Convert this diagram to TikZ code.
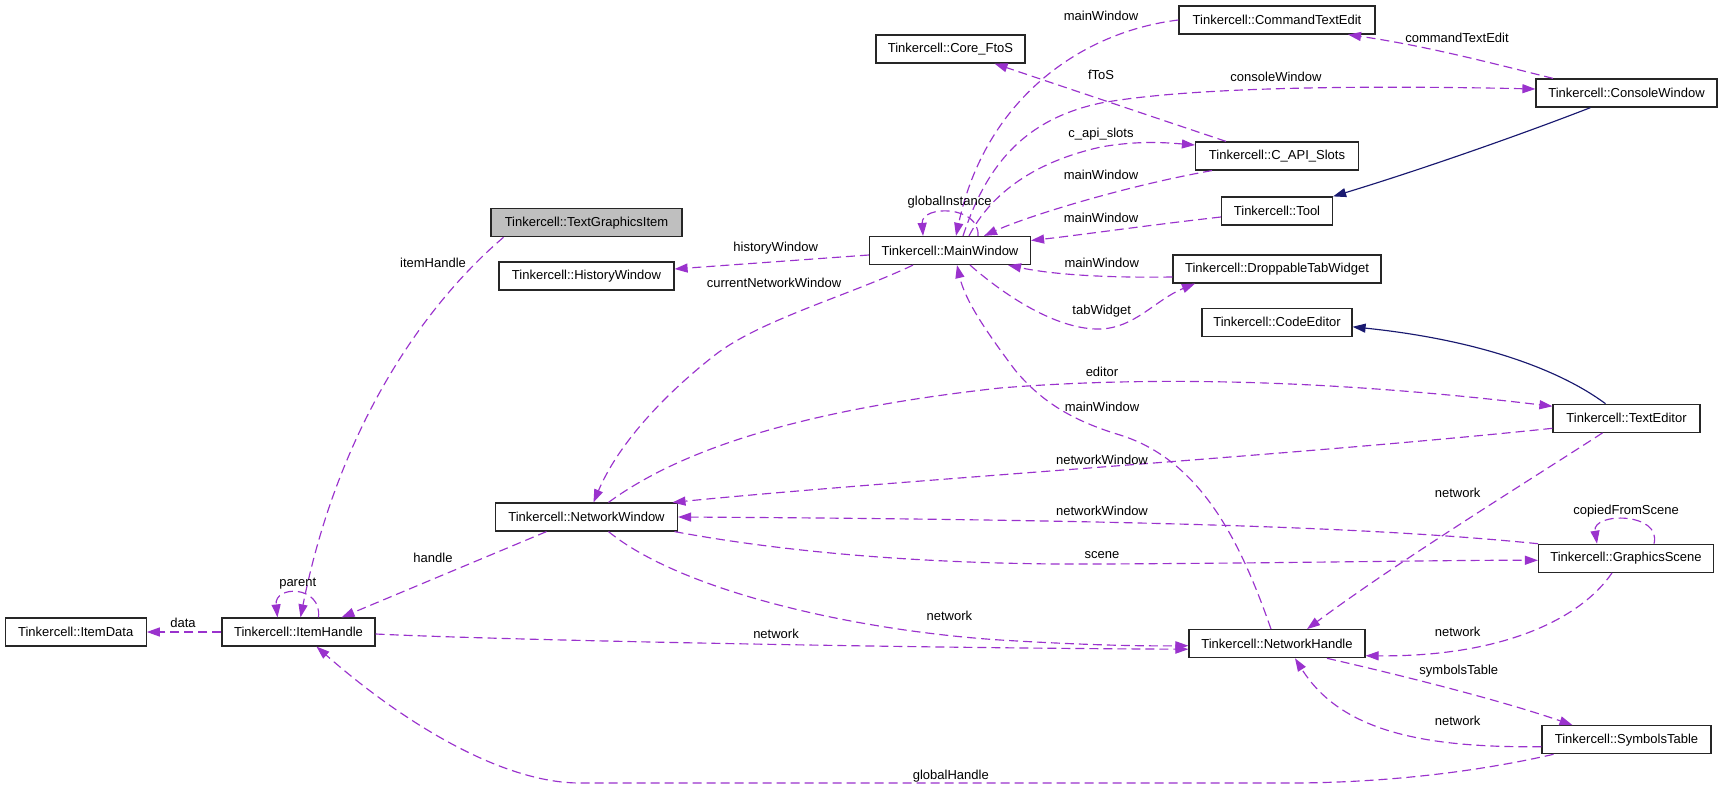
\documentclass[tikz,border=0pt]{standalone}
\usepackage{fontspec}
\setmainfont{Liberation Sans}
\usetikzlibrary{arrows.meta}
\definecolor{edgepurple}{RGB}{154,50,205}
\definecolor{inhblue}{RGB}{25,25,112}
\definecolor{boxgray}{RGB}{191,191,191}
\tikzset{
 cls/.style={draw=black!85, line width=1.2pt, fill=white, minimum height=28pt, inner sep=0pt, font=\fontsize{13}{15}\selectfont},
 lbl/.style={inner sep=0pt, font=\fontsize{13}{15}\selectfont},
 use/.style={draw=edgepurple, line width=1.15pt, dash pattern=on 9pt off 5pt, -{Triangle[length=13pt,width=9pt]}},
 inh/.style={draw=inhblue, line width=1.15pt, -{Triangle[length=13pt,width=9pt]}},
}
\begin{document}
\begin{tikzpicture}[x=1pt,y=-1pt]
\fill[white] (0,0) rectangle (1723,789);
\useasboundingbox (0,0) rectangle (1723,789);
% nodes
\node[cls, minimum width=191pt, fill=boxgray] (TGI) at (586.5,222.7) {Tinkercell::TextGraphicsItem};
\node[cls, minimum width=175pt] (HW) at (586.5,276) {Tinkercell::HistoryWindow};
\node[cls, minimum width=182pt] (NW) at (586.5,517) {Tinkercell::NetworkWindow};
\node[cls, minimum width=141pt] (ID) at (75.7,632) {Tinkercell::ItemData};
\node[cls, minimum width=153pt] (IH) at (298.5,632) {Tinkercell::ItemHandle};
\node[cls, minimum width=149pt] (FtoS) at (950.5,49) {Tinkercell::Core\_FtoS};
\node[cls, minimum width=161pt] (MW) at (950,250.5) {Tinkercell::MainWindow};
\node[cls, minimum width=196pt] (CTE) at (1277,20) {Tinkercell::CommandTextEdit};
\node[cls, minimum width=163pt] (CAS) at (1277,156) {Tinkercell::C\_API\_Slots};
\node[cls, minimum width=111pt] (Tool) at (1277,211) {Tinkercell::Tool};
\node[cls, minimum width=208pt] (DTW) at (1277,269) {Tinkercell::DroppableTabWidget};
\node[cls, minimum width=150pt] (CE) at (1277,322.3) {Tinkercell::CodeEditor};
\node[cls, minimum width=176pt] (NH) at (1277,643.7) {Tinkercell::NetworkHandle};
\node[cls, minimum width=181pt] (CW) at (1626.5,93) {Tinkercell::ConsoleWindow};
\node[cls, minimum width=147pt] (TE) at (1626.5,418.3) {Tinkercell::TextEditor};
\node[cls, minimum width=175pt] (GS) at (1626,558.3) {Tinkercell::GraphicsScene};
\node[cls, minimum width=169pt] (ST) at (1626.5,739.7) {Tinkercell::SymbolsTable};
% edges
\draw[use] (CTE.west) .. controls (1080,32) and (985,100) .. ([xshift=6pt]MW.north);
\draw[use] ([xshift=28pt]MW.north) .. controls (980,205) and (921,205) .. ([xshift=-27pt]MW.north);
\draw[use] ([xshift=13pt]MW.north) .. controls (985,170) and (1020,120) .. (1101,103) .. controls (1200,85) and (1400,86) .. ([yshift=4pt]CW.west);
\draw[use] ([xshift=19pt]MW.north) .. controls (985,205) and (1020,165) .. (1101,147) .. controls (1140,140) and (1170,143) .. ([yshift=11pt]CAS.west);
\draw[use] ([xshift=-65pt]CAS.south) .. controls (1130,185) and (1030,215) .. ([xshift=34pt]MW.north);
\draw[use] ([yshift=-6pt]Tool.west) .. controls (1150,225) and (1080,235) .. ([yshift=10pt]MW.east);
\draw[use] ([yshift=-8pt]DTW.west) .. controls (1100,278) and (1050,274) .. ([xshift=58pt]MW.south);
\draw[use] ([xshift=20pt]MW.south) .. controls (1010,300) and (1060,330) .. (1100,329) .. controls (1135,328) and (1155,300) .. ([xshift=-82pt]DTW.south);
\draw[use] ([yshift=-4.5pt]MW.west) -- ([yshift=7pt]HW.east);
\draw[use] ([xshift=-37pt]MW.south) .. controls (850,295) and (760,320) .. (715,355) .. controls (670,390) and (620,440) .. ([xshift=7pt]NW.north);
\draw[use] ([xshift=22pt]NW.north) .. controls (680,450) and (800,410) .. (1000,388) .. controls (1200,372) and (1400,388) .. ([yshift=12pt]TE.west);
\draw[use] ([yshift=-10pt]TE.west) .. controls (1300,455) and (900,480) .. ([xshift=86pt]NW.north);
\draw[inh] ([xshift=-36pt]CW.south) .. controls (1520,135) and (1420,170) .. (Tool.north east);
\draw[inh] ([xshift=-21pt]TE.north) .. controls (1560,370) and (1480,340) .. ([yshift=-4.5pt]CE.east);
\draw[use] ([xshift=-6pt]NH.north) .. controls (1240,540) and (1200,460) .. (1120,435) .. controls (1070,420) and (1040,400) .. (1015,370) .. controls (985,330) and (965,300) .. ([xshift=7pt]MW.south);
\draw[use] ([xshift=-88pt]GS.north) .. controls (1400,530) and (1200,520) .. (NW.east);
\draw[use] ([xshift=88pt]NW.south) .. controls (800,555) and (950,565) .. (1100,564) .. controls (1300,563) and (1450,560) .. ([yshift=-2pt]GS.west);
\draw[use] ([xshift=28pt]GS.north) .. controls (1662,512) and (1592,512) .. ([xshift=-29pt]GS.north);
\draw[use] ([xshift=-24pt]TE.south) .. controls (1530,480) and (1400,560) .. ([xshift=30pt]NH.north);
\draw[use] ([xshift=-14pt]GS.south) .. controls (1580,620) and (1500,657) .. ([yshift=-12pt]NH.east);
\draw[use] ([xshift=50pt]NH.south) .. controls (1400,675) and (1500,700) .. ([xshift=-54pt]ST.north);
\draw[use] ([yshift=-7pt]ST.west) .. controls (1420,748) and (1340,730) .. ([xshift=18pt]NH.south);
\draw[use] ([xshift=-73pt]ST.south) .. controls (1450,778) and (1350,783) .. (1290,783) -- (580,783) .. controls (500,783) and (400,720) .. ([xshift=18pt]IH.south);
\draw[use] ([xshift=22pt]NW.south) .. controls (680,590) and (850,630) .. (1000,640) .. controls (1100,646) and (1150,646) .. ([yshift=-2pt]NH.west);
\draw[use] ([yshift=-2pt]IH.east) .. controls (500,640) and (900,648) .. ([yshift=-5.5pt]NH.west);
\draw[use] ([xshift=-40pt]NW.south) -- ([xshift=43pt]IH.north);
\draw[use] ([xshift=-83pt]TGI.south) .. controls (430,300) and (340,420) .. ([xshift=2pt]IH.north);
\draw[use] ([xshift=20pt]IH.north) .. controls (322,585) and (274,585) .. ([xshift=-21pt]IH.north);
\draw[use] (IH.west) -- (ID.east);
\draw[use] ([xshift=-51pt]CAS.north) -- ([xshift=44pt]FtoS.south);
\draw[use] ([xshift=-73.5pt]CW.north) .. controls (1480,60) and (1420,45) .. ([xshift=71pt]CTE.south);
% labels
\node[lbl] (l1) at (1101,16) {mainWindow};
\node[lbl] (l2) at (1457,38) {commandTextEdit};
\node[lbl] (l3) at (1101,75) {fToS};
\node[lbl] (l4) at (1276,77) {consoleWindow};
\node[lbl] (l5) at (1101,134) {c\_api\_slots};
\node[lbl] (l6) at (1101,175) {mainWindow};
\node[lbl] (l7) at (949.6,202) {globalInstance};
\node[lbl] (l8) at (1101,218) {mainWindow};
\node[lbl] (l9) at (775.7,248) {historyWindow};
\node[lbl] (l10) at (1101.7,263) {mainWindow};
\node[lbl] (l11) at (774,283) {currentNetworkWindow};
\node[lbl] (l12) at (1101.7,311) {tabWidget};
\node[lbl] (l13) at (1102,372) {editor};
\node[lbl] (l14) at (1102,407) {mainWindow};
\node[lbl] (l15) at (1102,460) {networkWindow};
\node[lbl] (l16) at (1102,511) {networkWindow};
\node[lbl] (l17) at (1102,555) {scene};
\node[lbl] (l18) at (1457.6,492.7) {network};
\node[lbl] (l19) at (1626,510.7) {copiedFromScene};
\node[lbl] (l20) at (433,263) {itemHandle};
\node[lbl] (l21) at (433,558) {handle};
\node[lbl] (l22) at (297.7,584) {parent};
\node[lbl] (l23) at (183,622.7) {data};
\node[lbl] (l24) at (949.4,616) {network};
\node[lbl] (l25) at (776,634) {network};
\node[lbl] (l26) at (1457.6,631.7) {network};
\node[lbl] (l27) at (1458.8,670.7) {symbolsTable};
\node[lbl] (l28) at (1457.6,720.7) {network};
\node[lbl] (l29) at (950.8,775.7) {globalHandle};
\end{tikzpicture}
\end{document}
